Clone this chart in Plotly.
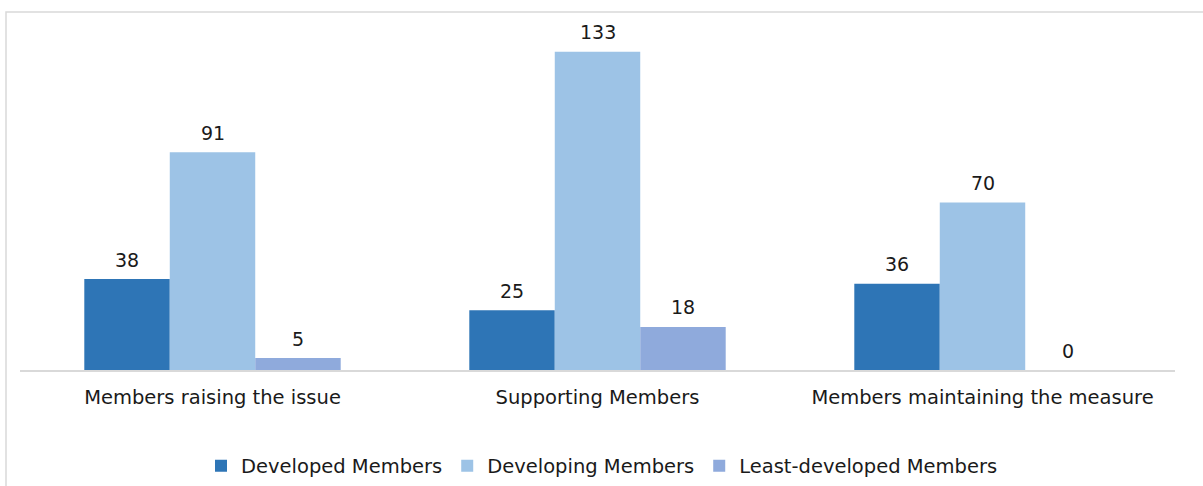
import plotly.graph_objects as go

categories = ["Members raising the issue", "Supporting Members", "Members maintaining the measure"]
series_names = ["Developed Members", "Developing Members", "Least-developed Members"]
developed = [38, 25, 36]
developing = [91, 133, 70]
least_developed = [5, 18, 0]
colors = ["#2E75B6", "#9DC3E6", "#8FAADC"]

series_values = [developed, developing, least_developed]

FONT = "DejaVu Sans"
TXT = "#1a1a1a"
BARGAP = 0.334

# vertical compensation for the capture (page appears ~2% taller than the window)
S = 497 / 486

fig = go.Figure()
for name, vals, col in zip(series_names, series_values, colors):
    fig.add_trace(go.Bar(
        x=categories, y=vals, name=name,
        marker=dict(color=col, line=dict(width=0)),
    ))

w = (1 - BARGAP) / 3
annotations = []
for j, vals in enumerate(series_values):
    for i, v in enumerate(vals):
        annotations.append(dict(
            x=i + (j - 1) * w, y=v, xref="x", yref="y",
            text=str(v), showarrow=False, yanchor="middle", yshift=19 * S,
            font=dict(family=FONT, size=19, color=TXT),
        ))

W, H = 1203, round(486 * S)
AXIS_Y = 369 * S
L, R, T, B = 20, W - 1175, 34 * S, H - AXIS_Y
pw, ph = W - L - R, H - T - B

def px(x):
    return (x - L) / pw

def py(y):
    return (AXIS_Y - y * S) / ph

border = dict(
    type="path", xref="paper", yref="paper",
    path=f"M {px(6)} {py(500)} L {px(6)} {py(11)} L {px(1210)} {py(11)}",
    line=dict(color="#d9d9d9", width=1.5),
)

fig.update_layout(
    width=W, height=H,
    margin=dict(l=L, r=R, t=T, b=B),
    paper_bgcolor="white", plot_bgcolor="white",
    barmode="group", bargap=BARGAP, bargroupgap=0,
    font=dict(family=FONT, size=19.5, color=TXT),
    showlegend=True,
    legend=dict(
        orientation="h", x=px(602), xanchor="center",
        y=py(465), yanchor="middle",
        font=dict(family=FONT, size=19.5, color=TXT),
        itemwidth=30, tracegroupgap=0,
    ),
    annotations=annotations,
    shapes=[border],
)
fig.update_xaxes(
    showline=True, linecolor="#d9d9d9", linewidth=1.5,
    showgrid=False, ticks="", ticklabelstandoff=round(9 * S),
    tickfont=dict(family=FONT, size=19.5, color=TXT),
)
fig.update_yaxes(
    range=[0, 140], visible=False, showgrid=False, zeroline=False,
)

post = (
    "document.documentElement.style.margin='0px';"
    "document.body.style.margin='0px';"
)
fig.write_html("out.html", post_script=post, config={"displayModeBar": False})
